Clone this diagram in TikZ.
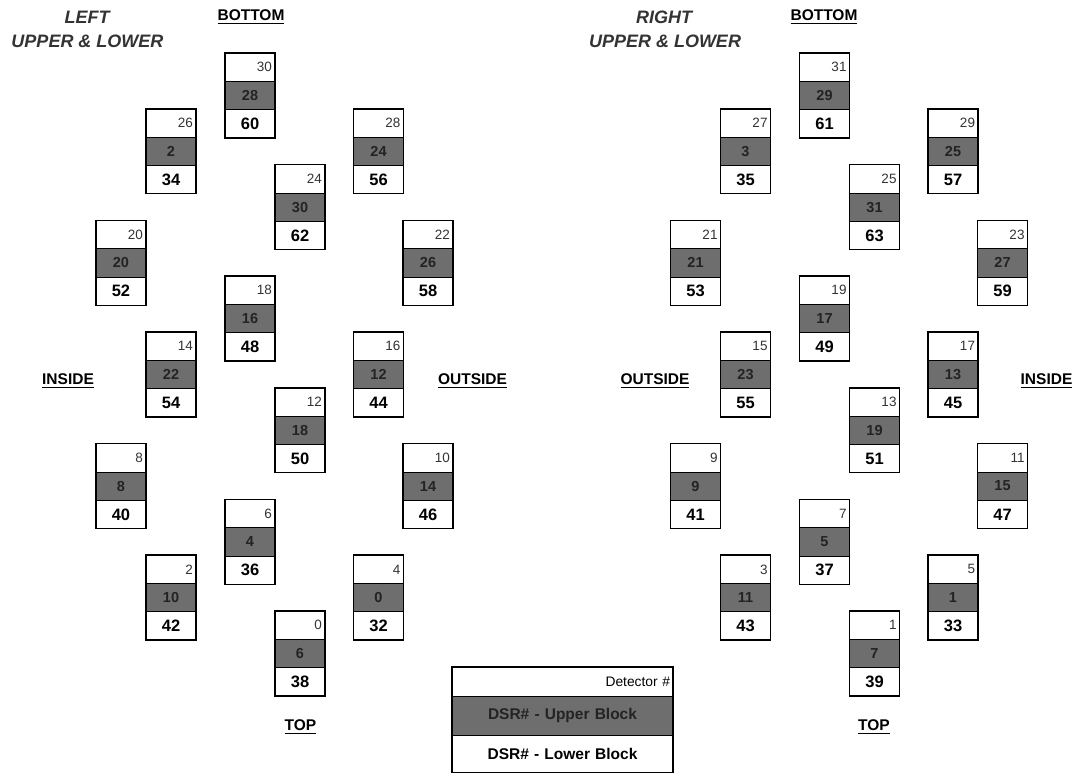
\documentclass[tikz,border=0pt]{standalone}
\usepackage{fontspec}
\setmainfont{Liberation Sans}
\usepackage{xcolor}
\usetikzlibrary{positioning}
\definecolor{dsrgray}{RGB}{110,110,110}
\definecolor{dsrtext}{RGB}{35,35,35}
\newsavebox\ulbox
\newcommand{\ulabel}[1]{\sbox\ulbox{#1}\rlap{\rule[-3.4pt]{\wd\ulbox}{1.3pt}}\usebox\ulbox}

\begin{document}
\begin{tikzpicture}[x=1pt,y=-1pt,
  dcell/.style={draw=black,line width=0.7pt,outer sep=0pt,inner xsep=3pt,inner ysep=0pt,
    text width=44pt,minimum height=28.3pt},
  detcell/.style={dcell,align=right,font=\fontsize{13.5}{15}\selectfont,text=black!80},
  upcell/.style={dcell,align=center,fill=dsrgray,text=dsrtext,font=\fontsize{14.5}{16}\selectfont\bfseries},
  locell/.style={dcell,align=center,font=\fontsize{16.5}{18}\selectfont\bfseries},
  boxframe/.style={draw=black,line width=1.5pt},
  sidelabel/.style={anchor=base,font=\fontsize{15.5}{18}\selectfont\bfseries},
  titlelabel/.style={anchor=base,font=\fontsize{18}{20}\selectfont\bfseries\itshape,text=black!80}]
  \useasboundingbox (0,0) rectangle (1078,773);
  % ---- left side
  \begin{scope}
    \foreach \cx/\r/\d/\u/\l in {250/0/30/28/60, 171/1/26/2/34, 378.5/1/28/24/56,
      300/2/24/30/62, 121/3/20/20/52, 428/3/22/26/58, 250/4/18/16/48,
      171/5/14/22/54, 378.5/5/16/12/44, 300/6/12/18/50, 121/7/8/8/40,
      428/7/10/14/46, 250/8/6/4/36, 171/9/2/10/42, 378.5/9/4/0/32, 300/10/0/6/38} {
      \pgfmathsetmacro{\ytop}{53+55.8*\r}
      \node[detcell,anchor=north] (det\d) at (\cx,\ytop) {\d};
      \node[upcell,below=0pt of det\d] (up\d) {\u};
      \node[locell,below=0pt of up\d] (lo\d) {\l};
      \draw[boxframe] (det\d.north west) rectangle (lo\d.south east);
    }
    \node[titlelabel] (lefttitle) at (87,24) {LEFT};
    \node[titlelabel] (leftsub) at (87.5,48) {UPPER \& LOWER};
    \node[sidelabel] (leftbottom) at (251,20.5) {\ulabel{BOTTOM}};
    \node[sidelabel] (leftinside) at (68,384.5) {\ulabel{INSIDE}};
    \node[sidelabel] (leftoutside) at (472.5,384.5) {\ulabel{OUTSIDE}};
    \node[sidelabel] (lefttop) at (300.5,730.5) {\ulabel{TOP}};
  \end{scope}
  % ---- right side
  \begin{scope}[shift={(574.5,0)}]
    \foreach \cx/\r/\d/\u/\l in {250/0/31/29/61, 171/1/27/3/35, 378.5/1/29/25/57,
      300/2/25/31/63, 121/3/21/21/53, 428/3/23/27/59, 250/4/19/17/49,
      171/5/15/23/55, 378.5/5/17/13/45, 300/6/13/19/51, 121/7/9/9/41,
      428/7/11/15/47, 250/8/7/5/37, 171/9/3/11/43, 378.5/9/5/1/33, 300/10/1/7/39} {
      \pgfmathsetmacro{\ytop}{53+55.8*\r}
      \node[detcell,anchor=north] (det\d) at (\cx,\ytop) {\d};
      \node[upcell,below=0pt of det\d] (up\d) {\u};
      \node[locell,below=0pt of up\d] (lo\d) {\l};
      \draw[boxframe] (det\d.north west) rectangle (lo\d.south east);
    }
  \end{scope}
  \node[titlelabel] (righttitle) at (664,24) {RIGHT};
  \node[titlelabel] (rightsub) at (665,48) {UPPER \& LOWER};
  \node[sidelabel] (rightbottom) at (824,20.5) {\ulabel{BOTTOM}};
  \node[sidelabel] (rightoutside) at (655,384.5) {\ulabel{OUTSIDE}};
  \node[sidelabel] (rightinside) at (1046.5,384.5) {\ulabel{INSIDE}};
  \node[sidelabel] (righttop) at (874,730.5) {\ulabel{TOP}};
  % ---- legend
  \node[dcell,anchor=north,text width=215pt,minimum height=29pt,align=right,
    font=\fontsize{13.8}{15}\selectfont] (legdet) at (562.5,667) {Detector \#};
  \node[dcell,text width=215pt,minimum height=39pt,align=center,fill=dsrgray,text=dsrtext,
    font=\fontsize{15.5}{17}\selectfont\bfseries,below=0pt of legdet] (legup) {DSR\# - Upper Block};
  \node[dcell,text width=215pt,minimum height=38pt,align=center,
    font=\fontsize{15.5}{17}\selectfont\bfseries,below=0pt of legup] (leglo) {DSR\# - Lower Block};
  \draw[boxframe] (legdet.north west) rectangle (leglo.south east);
\end{tikzpicture}
\end{document}
